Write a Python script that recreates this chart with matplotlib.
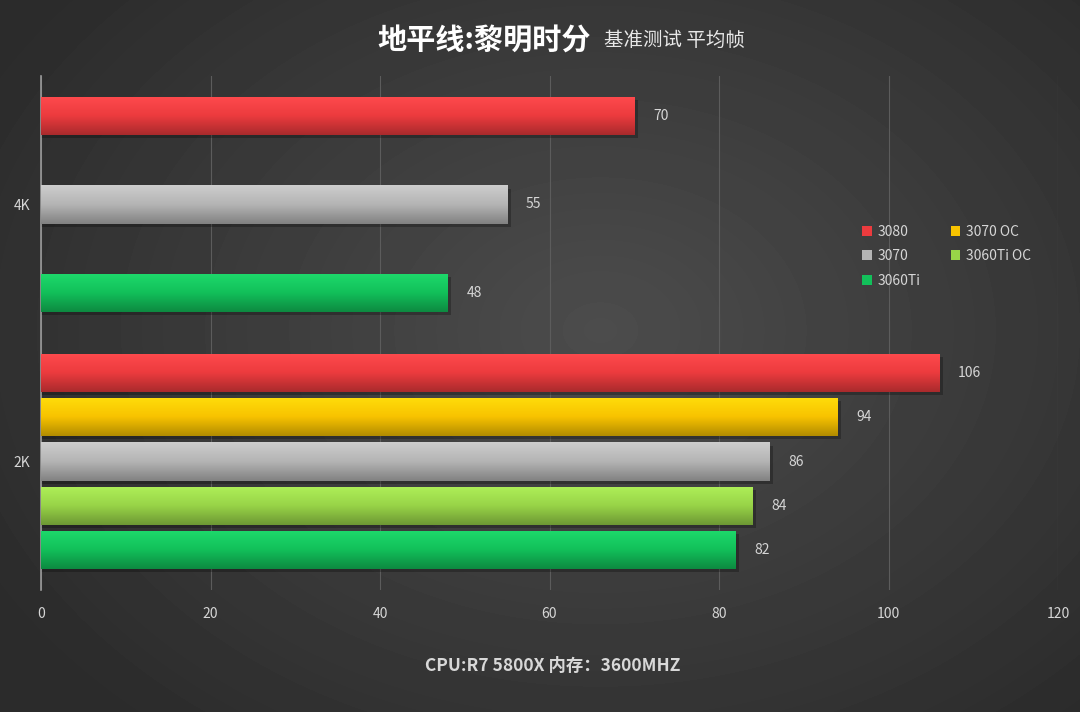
import numpy as np
import matplotlib
matplotlib.use("Agg")
import matplotlib.pyplot as plt
from matplotlib.colors import LinearSegmentedColormap, to_rgb

plt.rcParams['font.family'] = ['Noto Sans CJK SC', 'DejaVu Sans']

# data
categories = ['2K', '4K']
series = ['3080', '3070 OC', '3070', '3060Ti OC', '3060Ti']
colors = ['#ec3b3e', '#f8c300', '#b4b4b4', '#98d448', '#12c05a']
values_2k = [106, 94, 86, 84, 82]
values_4k = [70, None, 55, None, 48]
# 4K group only has three cards, spread over the whole group
slots_2k = [-2, -1, 0, 1, 2]
slots_4k = [-2, None, 0, None, 2]
xticks = [0, 20, 40, 60, 80, 100, 120]

fig = plt.figure(figsize=(10.8, 7.12), dpi=100)

# radial-ish dark background
bg = fig.add_axes([0, 0, 1, 1], zorder=-10)
yy, xx = np.mgrid[0:712, 0:1080]
d = np.sqrt(((xx - 600) / 700.0) ** 2 + ((yy - 330) / 520.0) ** 2)
shade = np.clip(0.30 - 0.13 * d, 0.17, 0.30)
bg.imshow(shade, cmap='gray', vmin=0, vmax=1, aspect='auto', extent=[0, 1, 0, 1])
bg.axis('off')

ax = fig.add_axes([41 / 1080, 1 - 590 / 712, (1058 - 41) / 1080, (590 - 76) / 712])
ax.set_facecolor('none')
ax.set_xlim(0, 120)
ax.set_ylim(0, 2)

slot = 0.172
bar_h = 0.148


def grad_bar(y, w, color, label=None):
    r, g, b = to_rgb(color)
    light = (min(r * 1.08 + 0.04, 1), min(g * 1.08 + 0.04, 1), min(b * 1.08 + 0.04, 1))
    dark = (r * 0.72, g * 0.72, b * 0.72)
    cmap = LinearSegmentedColormap.from_list('g', [dark, color, light])
    # shadow
    ax.barh(y - 0.012, w + 0.4, height=bar_h, color='black', alpha=0.25, zorder=2, linewidth=0)
    p = ax.barh(y, w, height=bar_h, color=color, zorder=3, linewidth=0, label=label)[0]
    grad = np.linspace(0, 1, 64).reshape(-1, 1)
    im = ax.imshow(grad, cmap=cmap, aspect='auto', origin='lower',
                   extent=[0, w, y - bar_h / 2, y + bar_h / 2], zorder=4)
    im.set_clip_path(p)
    ax.text(w + 2.2, y, str(w), color='#d6d6d6', fontsize=10, va='center', ha='left', zorder=5)
    return p


handles = []
for i, name in enumerate(series):
    h = grad_bar(0.5 - slots_2k[i] * slot, values_2k[i], colors[i], label=name)
    handles.append(h)
    if values_4k[i] is not None:
        grad_bar(1.5 - slots_4k[i] * slot, values_4k[i], colors[i])

ax.set_xlim(0, 120)
ax.set_ylim(0, 2)

ax.set_xticks(xticks)
ax.set_xticklabels([str(t) for t in xticks])
ax.set_yticks([0.5, 1.5])
ax.set_yticklabels(categories)
ax.tick_params(colors='#d6d6d6', labelsize=10, length=0)
ax.tick_params(axis='x', pad=12)
ax.tick_params(axis='y', pad=8)
ax.grid(axis='x', color='#5c5c5c', linewidth=0.8, zorder=0)
ax.set_axisbelow(True)
for s in ['top', 'right', 'bottom']:
    ax.spines[s].set_visible(False)
ax.spines['left'].set_color('#9a9a9a')
ax.spines['left'].set_linewidth(1.2)

leg_order = [0, 2, 4, 1, 3]
leg = ax.legend([handles[i] for i in leg_order], [series[i] for i in leg_order],
                loc='upper left', bbox_to_anchor=(0.795, 0.735), ncol=2, frameon=False,
                fontsize=10, labelcolor='#d6d6d6', handlelength=0.7, handleheight=0.7,
                handletextpad=0.4, columnspacing=2.2, labelspacing=0.75)

fig.text(0.547, 0.945, '地平线:黎明时分', color='white', fontsize=21, fontweight='bold',
         ha='right', va='center')
fig.text(0.559, 0.943, '基准测试 平均帧', color='#e8e8e8', fontsize=14, ha='left', va='center')

fig.text(0.512, 0.065, 'CPU:R7 5800X 内存：3600MHZ', color='#d8d8d8', fontsize=12.5,
         fontweight='bold', ha='center', va='center')

fig.savefig('out.png', dpi=100)
